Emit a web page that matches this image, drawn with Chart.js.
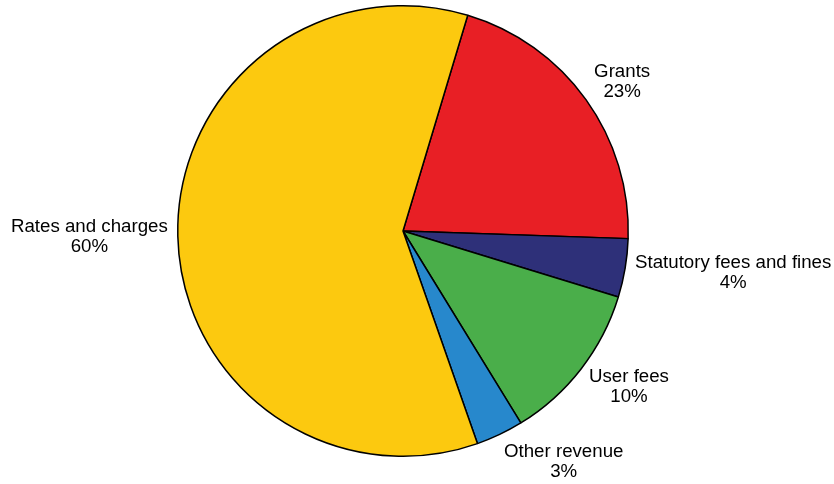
<!DOCTYPE html>
<html>
<head>
    <title>Revenue sources</title>
    <style>
        body {
            margin: 0;
            background-color: #ffffff;
        }
        #wrap {
            width: 834px;
            height: 484px;
        }
    </style>
</head>
<body>
    <div id="wrap">
        <canvas id="pieCanvas" width="834" height="484"></canvas>
    </div>

    <script src="https://cdn.jsdelivr.net/npm/chart.js"></script>
    <script>
        // slice sizes as drawn, going clockwise from the Grants slice
        const categories = ['Grants', 'Statutory fees and fines', 'User fees', 'Other revenue', 'Rates and charges'];
        const shares = [20.9, 4.2, 11.5, 3.4, 60.0];
        const percentLabels = ['23%', '4%', '10%', '3%', '60%'];
        const sliceColors = ['#E81F25', '#2E3079', '#4AAE4A', '#2788CC', '#FCC90F'];

        // draws "Name / xx%" outside each slice
        const outsideLabels = {
            id: 'outsideLabels',
            afterDatasetsDraw(chart) {
                const ctx = chart.ctx;
                const arcs = chart.getDatasetMeta(0).data;
                const lineH = 20;
                ctx.save();
                ctx.font = '18.7px "Liberation Sans", Arial, sans-serif';
                ctx.fillStyle = '#000000';
                ctx.textAlign = 'center';
                ctx.textBaseline = 'middle';
                arcs.forEach((arc, i) => {
                    const p = arc.getProps(['x', 'y', 'startAngle', 'endAngle', 'outerRadius']);
                    const mid = (p.startAngle + p.endAngle) / 2;
                    const r = p.outerRadius + 10;
                    const ax = p.x + Math.cos(mid) * r;
                    const ay = p.y + Math.sin(mid) * r;
                    const lines = [categories[i], percentLabels[i]];
                    const w = Math.max(...lines.map(t => ctx.measureText(t).width));
                    const h = lineH * 2;
                    const lx = ax + Math.sign(Math.cos(mid)) * w / 2;
                    const ly = ay + Math.sin(mid) * h / 2;
                    ctx.fillText(lines[0], lx, ly - lineH / 2);
                    ctx.fillText(lines[1], lx, ly + lineH / 2);
                });
                ctx.restore();
            }
        };

        new Chart(document.getElementById('pieCanvas').getContext('2d'), {
            type: 'pie',
            data: {
                labels: categories,
                datasets: [{
                    data: shares,
                    backgroundColor: sliceColors,
                    borderColor: '#000000',
                    borderWidth: 1.5
                }]
            },
            options: {
                responsive: false,
                animation: false,
                rotation: 16.7,
                layout: {
                    padding: { left: 177, right: 205, top: 5, bottom: 27 }
                },
                plugins: {
                    legend: { display: false },
                    tooltip: { enabled: false }
                }
            },
            plugins: [outsideLabels]
        });
    </script>
</body>
</html>
